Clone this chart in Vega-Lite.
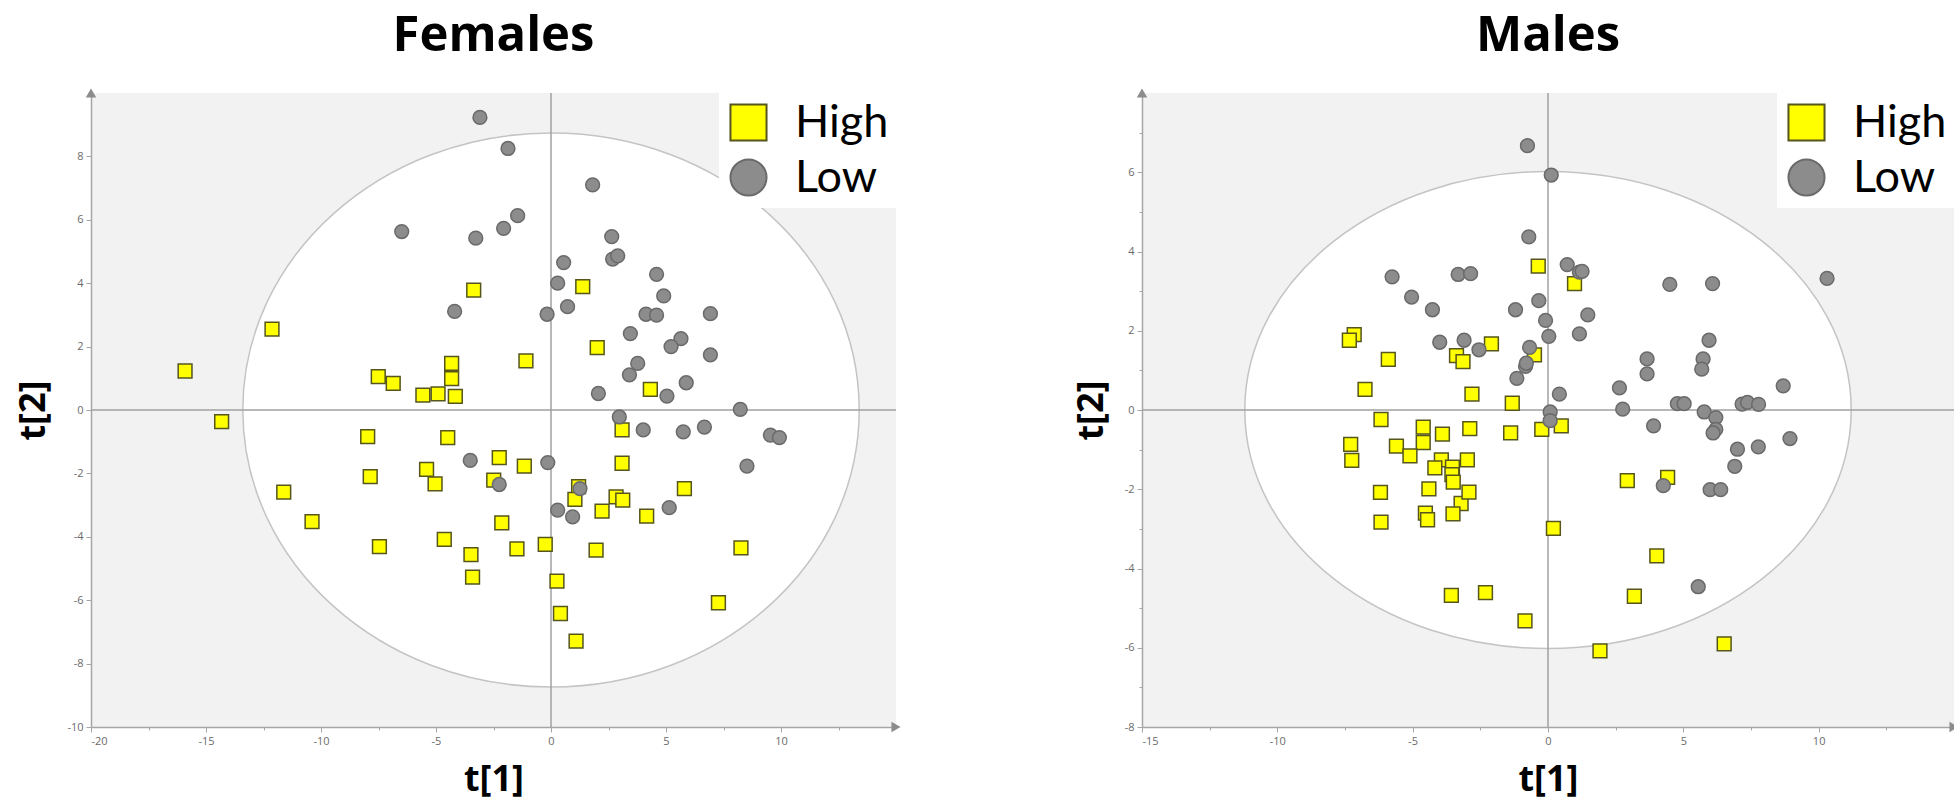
{
  "$schema": "https://vega.github.io/schema/vega-lite/v6.json",
  "padding": {"left": 15, "top": 12, "right": 0, "bottom": 12},
  "background": "white",
  "spacing": 246,
  "bounds": "flush",
  "config": {
    "view": {"fill": "#f2f2f2", "stroke": null},
    "font": "Open Sans",
    "axis": {"grid": false, "domainColor": "#a6a6a6", "domainWidth": 1.5, "tickColor": "#a6a6a6", "tickWidth": 1, "labelColor": "#6b6b6b", "labelFontSize": 11, "labelFont": "Open Sans", "labelPadding": 3, "titleFont": "Open Sans", "titleFontSize": 36, "titleFontWeight": "bold", "titleColor": "#000000"},
    "axisX": {"titlePadding": 16},
    "axisY": {"titlePadding": 14},
    "legend": {"orient": "top-right", "offset": 0, "padding": 7, "fillColor": "white", "labelFontSize": 45, "labelFont": "Lato", "labelColor": "#000000", "symbolSize": 1300, "symbolStrokeWidth": 2, "rowPadding": 9, "labelOffset": 24},
    "title": {"font": "Open Sans", "fontSize": 49, "fontWeight": "bold", "color": "#000000", "anchor": "middle", "frame": "group", "baseline": "alphabetic", "offset": 27}
  },
  "datasets": {
    "females": [
      {"t1": -3.36, "t2": 3.78, "class": "High"},
      {"t1": 1.38, "t2": 3.89, "class": "High"},
      {"t1": -12.13, "t2": 2.55, "class": "High"},
      {"t1": -15.91, "t2": 1.23, "class": "High"},
      {"t1": -14.32, "t2": -0.37, "class": "High"},
      {"t1": -4.32, "t2": 1.47, "class": "High"},
      {"t1": -4.32, "t2": 0.99, "class": "High"},
      {"t1": -4.16, "t2": 0.43, "class": "High"},
      {"t1": -4.91, "t2": 0.51, "class": "High"},
      {"t1": -5.57, "t2": 0.47, "class": "High"},
      {"t1": -7.51, "t2": 1.05, "class": "High"},
      {"t1": -6.86, "t2": 0.84, "class": "High"},
      {"t1": -1.09, "t2": 1.55, "class": "High"},
      {"t1": 2.01, "t2": 1.97, "class": "High"},
      {"t1": 4.32, "t2": 0.65, "class": "High"},
      {"t1": -7.97, "t2": -0.84, "class": "High"},
      {"t1": -4.49, "t2": -0.87, "class": "High"},
      {"t1": 3.09, "t2": -0.63, "class": "High"},
      {"t1": -2.25, "t2": -1.5, "class": "High"},
      {"t1": -1.16, "t2": -1.77, "class": "High"},
      {"t1": 3.09, "t2": -1.68, "class": "High"},
      {"t1": -2.49, "t2": -2.21, "class": "High"},
      {"t1": 5.8, "t2": -2.48, "class": "High"},
      {"t1": 1.2, "t2": -2.42, "class": "High"},
      {"t1": 1.04, "t2": -2.82, "class": "High"},
      {"t1": 2.83, "t2": -2.74, "class": "High"},
      {"t1": 3.12, "t2": -2.84, "class": "High"},
      {"t1": 2.22, "t2": -3.19, "class": "High"},
      {"t1": 4.16, "t2": -3.35, "class": "High"},
      {"t1": -2.14, "t2": -3.56, "class": "High"},
      {"t1": -1.48, "t2": -4.38, "class": "High"},
      {"t1": -0.25, "t2": -4.24, "class": "High"},
      {"t1": 1.96, "t2": -4.42, "class": "High"},
      {"t1": 8.26, "t2": -4.35, "class": "High"},
      {"t1": 0.26, "t2": -5.4, "class": "High"},
      {"t1": 7.28, "t2": -6.08, "class": "High"},
      {"t1": 0.41, "t2": -6.42, "class": "High"},
      {"t1": 1.09, "t2": -7.29, "class": "High"},
      {"t1": -5.41, "t2": -1.87, "class": "High"},
      {"t1": -5.04, "t2": -2.33, "class": "High"},
      {"t1": -7.86, "t2": -2.1, "class": "High"},
      {"t1": -11.62, "t2": -2.59, "class": "High"},
      {"t1": -10.39, "t2": -3.52, "class": "High"},
      {"t1": -7.46, "t2": -4.31, "class": "High"},
      {"t1": -4.64, "t2": -4.08, "class": "High"},
      {"t1": -3.48, "t2": -4.56, "class": "High"},
      {"t1": -3.41, "t2": -5.27, "class": "High"},
      {"t1": -3.09, "t2": 9.23, "class": "Low"},
      {"t1": -1.87, "t2": 8.25, "class": "Low"},
      {"t1": 1.81, "t2": 7.1, "class": "Low"},
      {"t1": -1.45, "t2": 6.13, "class": "Low"},
      {"t1": -2.06, "t2": 5.73, "class": "Low"},
      {"t1": -3.27, "t2": 5.42, "class": "Low"},
      {"t1": -6.49, "t2": 5.63, "class": "Low"},
      {"t1": 2.64, "t2": 5.47, "class": "Low"},
      {"t1": 2.68, "t2": 4.76, "class": "Low"},
      {"t1": 2.9, "t2": 4.86, "class": "Low"},
      {"t1": 0.55, "t2": 4.65, "class": "Low"},
      {"t1": 0.29, "t2": 4.0, "class": "Low"},
      {"t1": -4.19, "t2": 3.11, "class": "Low"},
      {"t1": -0.17, "t2": 3.02, "class": "Low"},
      {"t1": 0.72, "t2": 3.26, "class": "Low"},
      {"t1": 4.59, "t2": 4.28, "class": "Low"},
      {"t1": 4.9, "t2": 3.6, "class": "Low"},
      {"t1": 4.13, "t2": 3.02, "class": "Low"},
      {"t1": 4.59, "t2": 2.99, "class": "Low"},
      {"t1": 6.93, "t2": 3.04, "class": "Low"},
      {"t1": 3.45, "t2": 2.41, "class": "Low"},
      {"t1": 5.65, "t2": 2.25, "class": "Low"},
      {"t1": 5.22, "t2": 2.0, "class": "Low"},
      {"t1": 6.93, "t2": 1.74, "class": "Low"},
      {"t1": 3.77, "t2": 1.47, "class": "Low"},
      {"t1": 3.41, "t2": 1.11, "class": "Low"},
      {"t1": 5.88, "t2": 0.86, "class": "Low"},
      {"t1": 5.04, "t2": 0.44, "class": "Low"},
      {"t1": 2.06, "t2": 0.52, "class": "Low"},
      {"t1": 8.23, "t2": 0.02, "class": "Low"},
      {"t1": 2.97, "t2": -0.22, "class": "Low"},
      {"t1": 4.01, "t2": -0.63, "class": "Low"},
      {"t1": 5.75, "t2": -0.69, "class": "Low"},
      {"t1": 6.67, "t2": -0.54, "class": "Low"},
      {"t1": 9.54, "t2": -0.79, "class": "Low"},
      {"t1": 9.93, "t2": -0.87, "class": "Low"},
      {"t1": 8.52, "t2": -1.77, "class": "Low"},
      {"t1": -0.14, "t2": -1.66, "class": "Low"},
      {"t1": -2.25, "t2": -2.35, "class": "Low"},
      {"t1": 1.26, "t2": -2.48, "class": "Low"},
      {"t1": 0.29, "t2": -3.16, "class": "Low"},
      {"t1": 0.94, "t2": -3.37, "class": "Low"},
      {"t1": 5.14, "t2": -3.08, "class": "Low"},
      {"t1": -3.51, "t2": -1.59, "class": "Low"}
    ],
    "males": [
      {"t1": -0.36, "t2": 3.63, "class": "High"},
      {"t1": 0.98, "t2": 3.19, "class": "High"},
      {"t1": -7.16, "t2": 1.9, "class": "High"},
      {"t1": -7.34, "t2": 1.76, "class": "High"},
      {"t1": -5.9, "t2": 1.28, "class": "High"},
      {"t1": -2.09, "t2": 1.67, "class": "High"},
      {"t1": -3.38, "t2": 1.37, "class": "High"},
      {"t1": -3.14, "t2": 1.22, "class": "High"},
      {"t1": -0.5, "t2": 1.39, "class": "High"},
      {"t1": -6.76, "t2": 0.52, "class": "High"},
      {"t1": -2.81, "t2": 0.4, "class": "High"},
      {"t1": -1.32, "t2": 0.17, "class": "High"},
      {"t1": -6.17, "t2": -0.24, "class": "High"},
      {"t1": -4.61, "t2": -0.43, "class": "High"},
      {"t1": -4.61, "t2": -0.82, "class": "High"},
      {"t1": -3.9, "t2": -0.61, "class": "High"},
      {"t1": -2.89, "t2": -0.47, "class": "High"},
      {"t1": -1.38, "t2": -0.58, "class": "High"},
      {"t1": -0.23, "t2": -0.49, "class": "High"},
      {"t1": 0.49, "t2": -0.4, "class": "High"},
      {"t1": -7.29, "t2": -0.87, "class": "High"},
      {"t1": -7.25, "t2": -1.27, "class": "High"},
      {"t1": -5.6, "t2": -0.91, "class": "High"},
      {"t1": -5.1, "t2": -1.16, "class": "High"},
      {"t1": -3.94, "t2": -1.26, "class": "High"},
      {"t1": -4.18, "t2": -1.46, "class": "High"},
      {"t1": -2.98, "t2": -1.26, "class": "High"},
      {"t1": -3.53, "t2": -1.44, "class": "High"},
      {"t1": -3.55, "t2": -1.63, "class": "High"},
      {"t1": -3.5, "t2": -1.82, "class": "High"},
      {"t1": -3.21, "t2": -2.36, "class": "High"},
      {"t1": -2.92, "t2": -2.07, "class": "High"},
      {"t1": -4.4, "t2": -1.99, "class": "High"},
      {"t1": -6.19, "t2": -2.08, "class": "High"},
      {"t1": -6.17, "t2": -2.83, "class": "High"},
      {"t1": -4.53, "t2": -2.6, "class": "High"},
      {"t1": -4.45, "t2": -2.77, "class": "High"},
      {"t1": -3.51, "t2": -2.62, "class": "High"},
      {"t1": 0.2, "t2": -2.99, "class": "High"},
      {"t1": -3.57, "t2": -4.68, "class": "High"},
      {"t1": -2.31, "t2": -4.61, "class": "High"},
      {"t1": -0.85, "t2": -5.32, "class": "High"},
      {"t1": 1.92, "t2": -6.08, "class": "High"},
      {"t1": 2.93, "t2": -1.78, "class": "High"},
      {"t1": 4.42, "t2": -1.7, "class": "High"},
      {"t1": 4.02, "t2": -3.68, "class": "High"},
      {"t1": 3.19, "t2": -4.7, "class": "High"},
      {"t1": 6.51, "t2": -5.9, "class": "High"},
      {"t1": -0.76, "t2": 6.67, "class": "Low"},
      {"t1": 0.12, "t2": 5.93, "class": "Low"},
      {"t1": -0.71, "t2": 4.37, "class": "Low"},
      {"t1": -5.76, "t2": 3.36, "class": "Low"},
      {"t1": -3.32, "t2": 3.42, "class": "Low"},
      {"t1": -2.86, "t2": 3.44, "class": "Low"},
      {"t1": 0.71, "t2": 3.67, "class": "Low"},
      {"t1": 1.16, "t2": 3.48, "class": "Low"},
      {"t1": 1.26, "t2": 3.5, "class": "Low"},
      {"t1": -5.04, "t2": 2.85, "class": "Low"},
      {"t1": -4.27, "t2": 2.53, "class": "Low"},
      {"t1": -1.2, "t2": 2.53, "class": "Low"},
      {"t1": -0.34, "t2": 2.76, "class": "Low"},
      {"t1": 1.47, "t2": 2.4, "class": "Low"},
      {"t1": -0.09, "t2": 2.26, "class": "Low"},
      {"t1": 0.03, "t2": 1.86, "class": "Low"},
      {"t1": 1.16, "t2": 1.92, "class": "Low"},
      {"t1": -4.0, "t2": 1.71, "class": "Low"},
      {"t1": -3.1, "t2": 1.76, "class": "Low"},
      {"t1": -2.55, "t2": 1.52, "class": "Low"},
      {"t1": -0.68, "t2": 1.58, "class": "Low"},
      {"t1": -0.83, "t2": 1.1, "class": "Low"},
      {"t1": -0.8, "t2": 1.18, "class": "Low"},
      {"t1": -1.15, "t2": 0.8, "class": "Low"},
      {"t1": 0.42, "t2": 0.4, "class": "Low"},
      {"t1": 0.08, "t2": -0.05, "class": "Low"},
      {"t1": 0.08, "t2": -0.27, "class": "Low"},
      {"t1": 4.5, "t2": 3.17, "class": "Low"},
      {"t1": 6.08, "t2": 3.19, "class": "Low"},
      {"t1": 10.31, "t2": 3.32, "class": "Low"},
      {"t1": 5.95, "t2": 1.76, "class": "Low"},
      {"t1": 3.66, "t2": 1.29, "class": "Low"},
      {"t1": 3.66, "t2": 0.91, "class": "Low"},
      {"t1": 5.73, "t2": 1.29, "class": "Low"},
      {"t1": 5.68, "t2": 1.03, "class": "Low"},
      {"t1": 2.64, "t2": 0.56, "class": "Low"},
      {"t1": 8.69, "t2": 0.61, "class": "Low"},
      {"t1": 2.76, "t2": 0.02, "class": "Low"},
      {"t1": 4.78, "t2": 0.16, "class": "Low"},
      {"t1": 5.03, "t2": 0.16, "class": "Low"},
      {"t1": 7.17, "t2": 0.15, "class": "Low"},
      {"t1": 7.37, "t2": 0.19, "class": "Low"},
      {"t1": 7.78, "t2": 0.14, "class": "Low"},
      {"t1": 5.77, "t2": -0.05, "class": "Low"},
      {"t1": 6.2, "t2": -0.19, "class": "Low"},
      {"t1": 6.2, "t2": -0.49, "class": "Low"},
      {"t1": 6.1, "t2": -0.58, "class": "Low"},
      {"t1": 3.9, "t2": -0.4, "class": "Low"},
      {"t1": 8.94, "t2": -0.72, "class": "Low"},
      {"t1": 7.0, "t2": -0.99, "class": "Low"},
      {"t1": 7.77, "t2": -0.93, "class": "Low"},
      {"t1": 6.9, "t2": -1.42, "class": "Low"},
      {"t1": 4.26, "t2": -1.91, "class": "Low"},
      {"t1": 5.99, "t2": -2.01, "class": "Low"},
      {"t1": 6.38, "t2": -2.01, "class": "Low"},
      {"t1": 5.55, "t2": -4.46, "class": "Low"}
    ]
  },
  "hconcat": [
    {
      "width": 805,
      "height": 634,
      "title": {"text": "Females"},
      "layer": [
        {
          "data": {"values": [{}]},
          "mark": {"type": "point", "shape": "M 1 0 C 1 0.4964 0.5523 0.8988 0 0.8988 C -0.5523 0.8988 -1 0.4964 -1 0 C -1 -0.4964 -0.5523 -0.8988 0 -0.8988 C 0.5523 -0.8988 1 -0.4964 1 0 Z", "size": 379949, "filled": true, "fill": "white", "stroke": "#c4c4c4", "strokeWidth": 1.5, "opacity": 1},
          "encoding": {
            "x": {"datum": 0, "type": "quantitative", "title": "t[1]"},
            "y": {"datum": 0, "type": "quantitative", "title": "t[2]"}
          }
        },
        {
          "data": {"values": [{}]},
          "mark": {"type": "rule", "color": "#a0a0a0", "strokeWidth": 1.5},
          "encoding": {"x": {"datum": 0, "type": "quantitative", "title": "t[1]"}}
        },
        {
          "data": {"values": [{}]},
          "mark": {"type": "rule", "color": "#a0a0a0", "strokeWidth": 1.5},
          "encoding": {"y": {"datum": 0, "type": "quantitative", "title": "t[2]"}}
        },
        {
          "data": {"name": "females"},
          "mark": {"type": "point", "filled": true, "opacity": 1, "size": 190, "strokeWidth": 1.5},
          "encoding": {
            "x": {"field": "t1", "type": "quantitative", "title": "t[1]",
                  "scale": {"domain": [-20, 15], "nice": false, "zero": false},
                  "axis": {"values": [-20, -17.5, -15, -12.5, -10, -7.5, -5, -2.5, 0, 2.5, 5, 7.5, 10, 12.5],
                           "labelExpr": "datum.value % 5 === 0 ? '' + datum.value : ''",
                           "tickSize": {"expr": "datum.value % 5 === 0 ? 5 : 3"}}},
            "y": {"field": "t2", "type": "quantitative", "title": "t[2]",
                  "scale": {"domain": [-10, 10], "nice": false, "zero": false},
                  "axis": {"values": [-10, -9, -8, -7, -6, -5, -4, -3, -2, -1, 0, 1, 2, 3, 4, 5, 6, 7, 8, 9],
                           "labelExpr": "datum.value % 2 === 0 ? '' + datum.value : ''",
                           "tickSize": {"expr": "datum.value % 2 === 0 ? 5 : 3"}}},
            "color": {"field": "class", "type": "nominal", "title": null, "scale": {"domain": ["High", "Low"], "range": ["#ffff00", "#8c8c8c"]}},
            "shape": {"field": "class", "type": "nominal", "title": null, "scale": {"domain": ["High", "Low"], "range": ["square", "circle"]}},
            "stroke": {"field": "class", "type": "nominal", "title": null, "scale": {"domain": ["High", "Low"], "range": ["#55551c", "#6a6a6a"]}}
          }
        },
        {
          "data": {"values": [{}]},
          "mark": {"type": "point", "shape": "triangle-right", "filled": true, "color": "#8c8c8c", "size": 110, "opacity": 1},
          "encoding": {"x": {"datum": 15, "type": "quantitative", "title": "t[1]"}, "y": {"datum": -10, "type": "quantitative", "title": "t[2]"}}
        },
        {
          "data": {"values": [{}]},
          "mark": {"type": "point", "shape": "triangle-up", "filled": true, "color": "#8c8c8c", "size": 110, "opacity": 1},
          "encoding": {"x": {"datum": -20, "type": "quantitative", "title": "t[1]"}, "y": {"datum": 10, "type": "quantitative", "title": "t[2]"}}
        }
      ]
    },
    {
      "width": 812,
      "height": 634,
      "title": {"text": "Males"},
      "layer": [
        {
          "data": {"values": [{}]},
          "mark": {"type": "point", "shape": "M 1 0 C 1 0.4345 0.5523 0.7866 0 0.7866 C -0.5523 0.7866 -1 0.4345 -1 0 C -1 -0.4345 -0.5523 -0.7866 0 -0.7866 C 0.5523 -0.7866 1 -0.4345 1 0 Z", "size": 367721, "filled": true, "fill": "white", "stroke": "#c4c4c4", "strokeWidth": 1.5, "opacity": 1},
          "encoding": {
            "x": {"datum": 0, "type": "quantitative", "title": "t[1]"},
            "y": {"datum": 0, "type": "quantitative", "title": "t[2]"}
          }
        },
        {
          "data": {"values": [{}]},
          "mark": {"type": "rule", "color": "#a0a0a0", "strokeWidth": 1.5},
          "encoding": {"x": {"datum": 0, "type": "quantitative", "title": "t[1]"}}
        },
        {
          "data": {"values": [{}]},
          "mark": {"type": "rule", "color": "#a0a0a0", "strokeWidth": 1.5},
          "encoding": {"y": {"datum": 0, "type": "quantitative", "title": "t[2]"}}
        },
        {
          "data": {"name": "males"},
          "mark": {"type": "point", "filled": true, "opacity": 1, "size": 190, "strokeWidth": 1.5},
          "encoding": {
            "x": {"field": "t1", "type": "quantitative", "title": "t[1]",
                  "scale": {"domain": [-15, 15], "nice": false, "zero": false},
                  "axis": {"values": [-15, -12.5, -10, -7.5, -5, -2.5, 0, 2.5, 5, 7.5, 10, 12.5],
                           "labelExpr": "datum.value % 5 === 0 ? '' + datum.value : ''",
                           "tickSize": {"expr": "datum.value % 5 === 0 ? 5 : 3"}}},
            "y": {"field": "t2", "type": "quantitative", "title": "t[2]",
                  "scale": {"domain": [-8, 8], "nice": false, "zero": false},
                  "axis": {"values": [-8, -7, -6, -5, -4, -3, -2, -1, 0, 1, 2, 3, 4, 5, 6, 7],
                           "labelExpr": "datum.value % 2 === 0 ? '' + datum.value : ''",
                           "tickSize": {"expr": "datum.value % 2 === 0 ? 5 : 3"}}},
            "color": {"field": "class", "type": "nominal", "title": null, "scale": {"domain": ["High", "Low"], "range": ["#ffff00", "#8c8c8c"]}},
            "shape": {"field": "class", "type": "nominal", "title": null, "scale": {"domain": ["High", "Low"], "range": ["square", "circle"]}},
            "stroke": {"field": "class", "type": "nominal", "title": null, "scale": {"domain": ["High", "Low"], "range": ["#55551c", "#6a6a6a"]}}
          }
        },
        {
          "data": {"values": [{}]},
          "mark": {"type": "point", "shape": "triangle-right", "filled": true, "color": "#8c8c8c", "size": 110, "opacity": 1},
          "encoding": {"x": {"datum": 15, "type": "quantitative", "title": "t[1]"}, "y": {"datum": -8, "type": "quantitative", "title": "t[2]"}}
        },
        {
          "data": {"values": [{}]},
          "mark": {"type": "point", "shape": "triangle-up", "filled": true, "color": "#8c8c8c", "size": 110, "opacity": 1},
          "encoding": {"x": {"datum": -15, "type": "quantitative", "title": "t[1]"}, "y": {"datum": 8, "type": "quantitative", "title": "t[2]"}}
        }
      ]
    }
  ],
  "resolve": {"scale": {"color": "independent", "shape": "independent", "stroke": "independent"}}
}
